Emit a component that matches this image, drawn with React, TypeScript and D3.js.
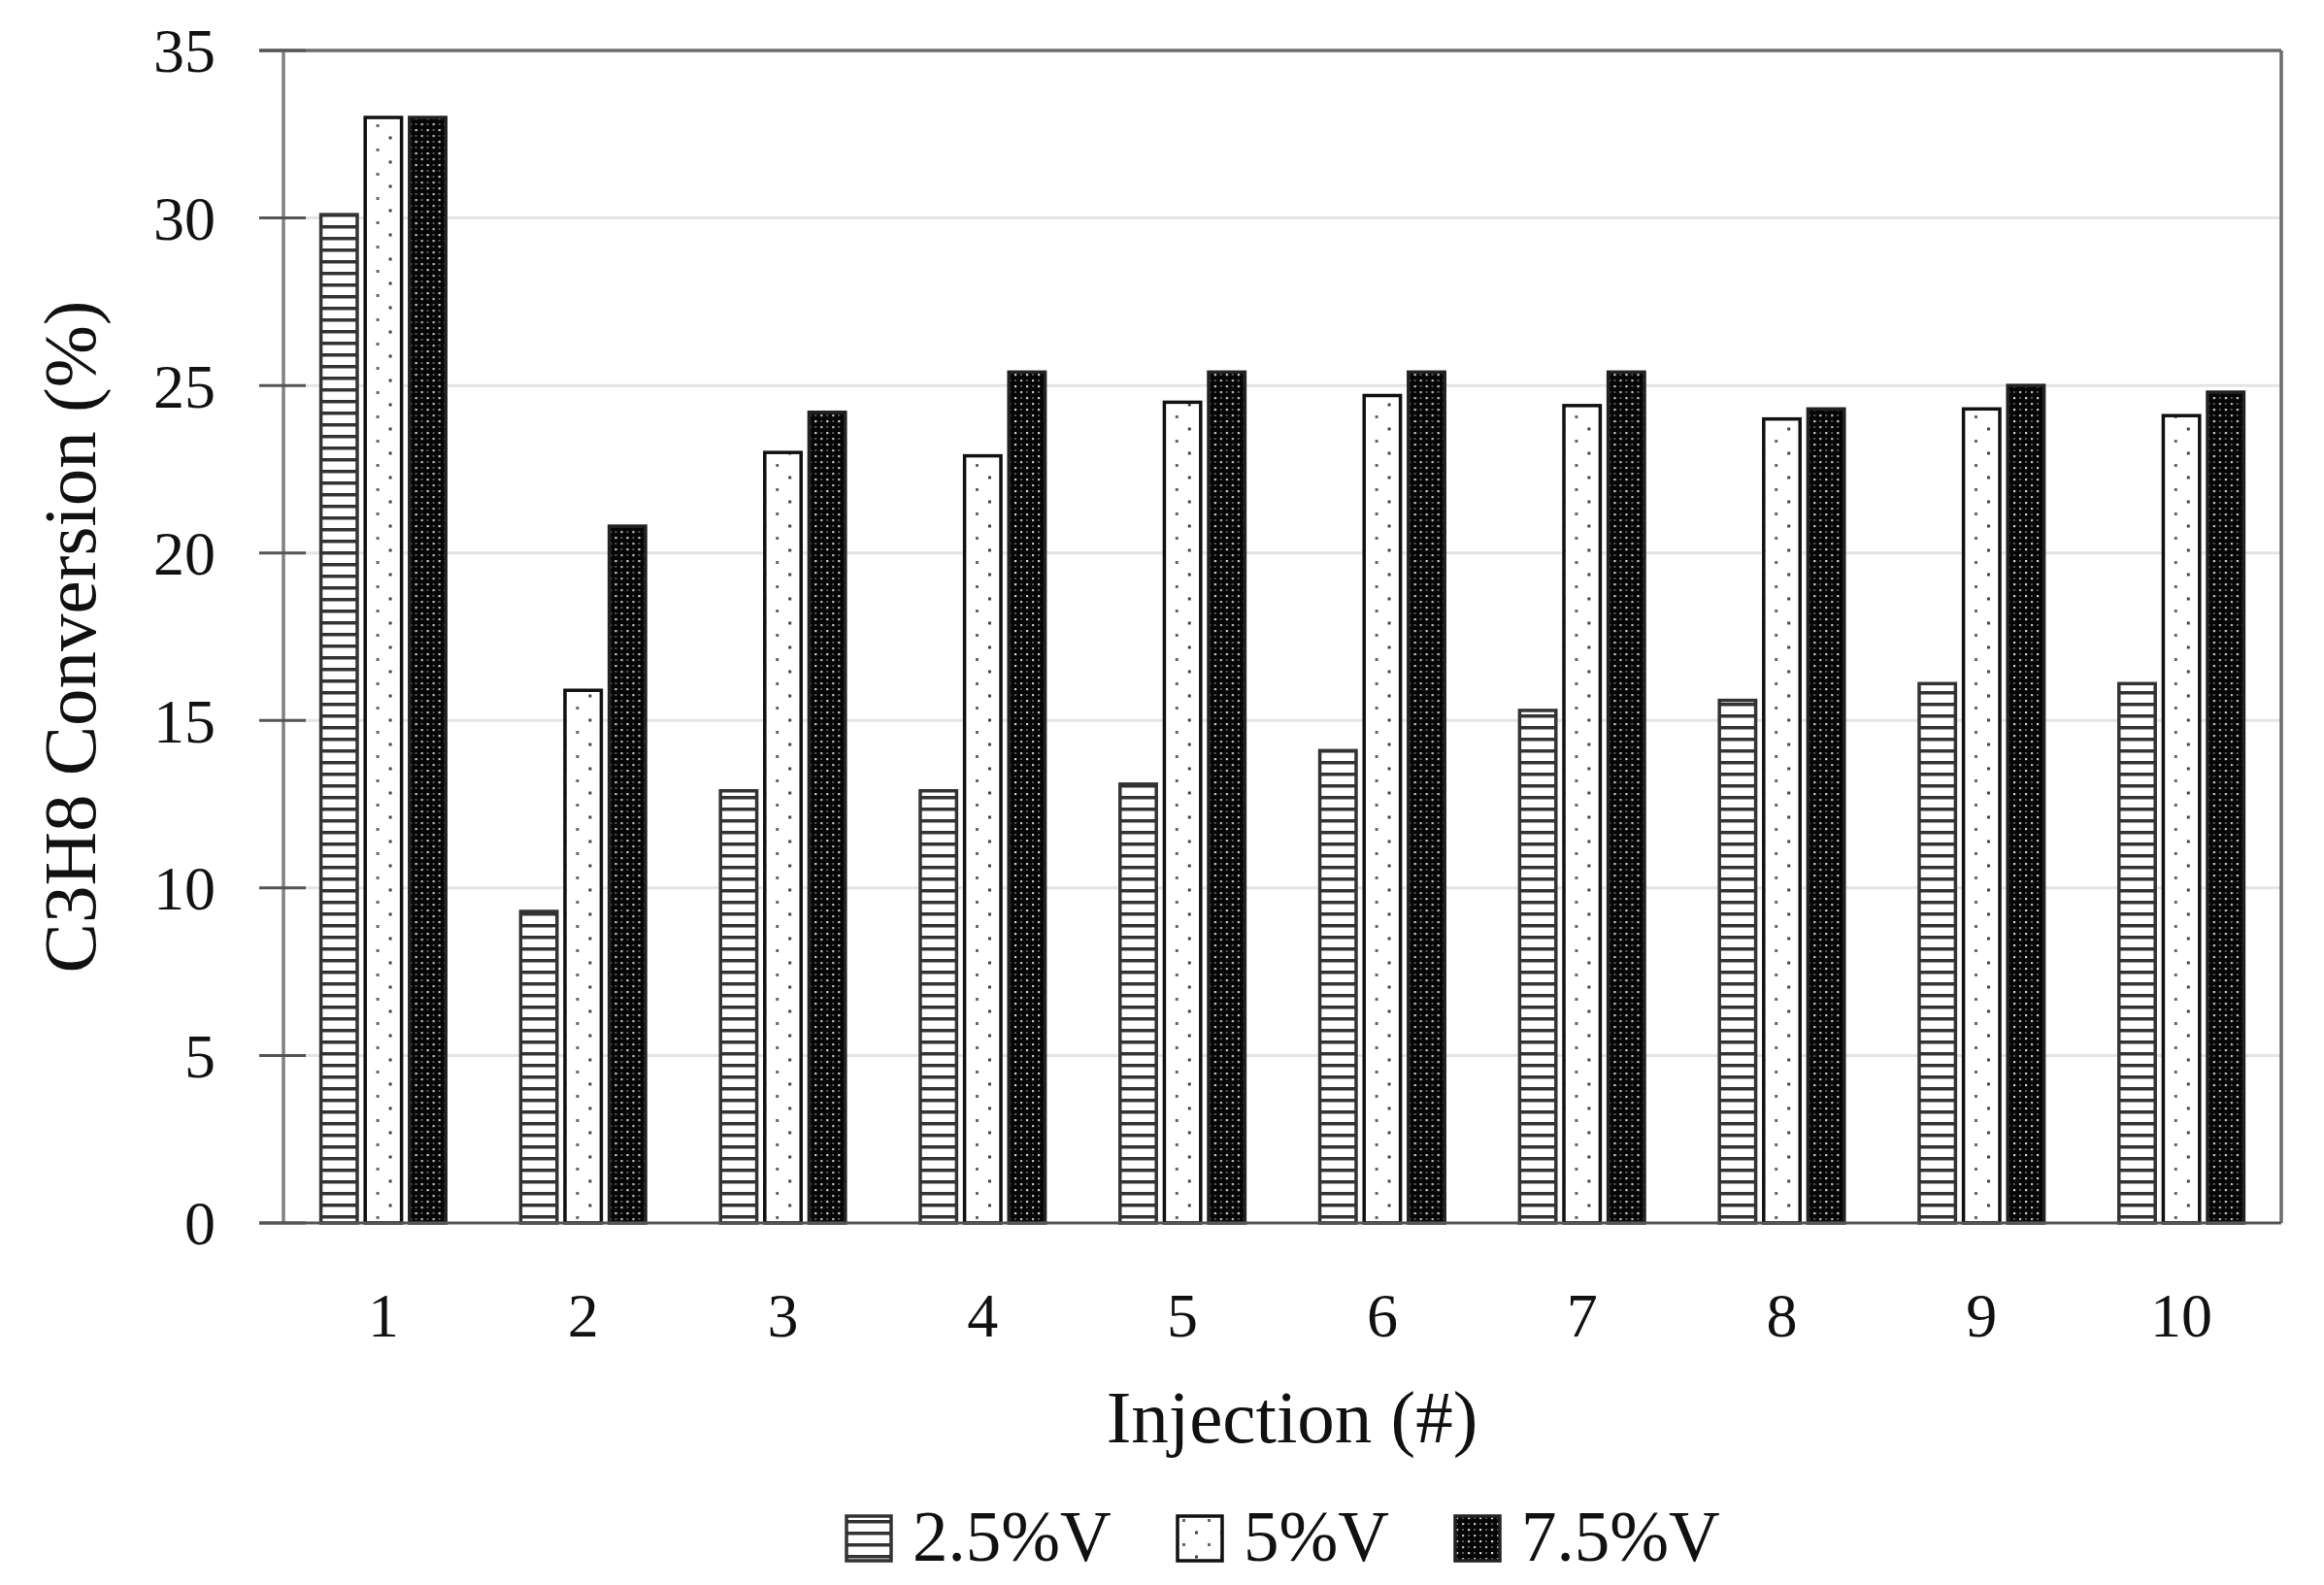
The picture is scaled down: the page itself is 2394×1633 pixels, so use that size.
import { useRef, useEffect } from "react";
import * as d3 from "d3";

const injections = ["1", "2", "3", "4", "5", "6", "7", "8", "9", "10"];
const seriesNames = ["2.5%V", "5%V", "7.5%V"];
const conv25 = [30.1, 9.3, 12.9, 12.9, 13.1, 14.1, 15.3, 15.6, 16.1, 16.1];
const conv5 = [33.0, 15.9, 23.0, 22.9, 24.5, 24.7, 24.4, 24.0, 24.3, 24.1];
const conv75 = [33.0, 20.8, 24.2, 25.4, 25.4, 25.4, 25.4, 24.3, 25.0, 24.8];
const yTicks = [0, 5, 10, 15, 20, 25, 30, 35];

const FONT = "'Liberation Serif', 'Times New Roman', serif";

export default function App() {
  const svgRef = useRef<SVGSVGElement>(null);

  useEffect(() => {
    if (!svgRef.current) return;
    const width = 2394;
    const height = 1633;
    const left = 292;
    const right = 2350;
    const top = 52;
    const bottom = 1260;

    const svg = d3.select(svgRef.current);
    svg.selectAll("*").remove();
    svg.attr("width", width).attr("height", height).attr("viewBox", `0 0 ${width} ${height}`);

    svg.append("rect").attr("width", width).attr("height", height).attr("fill", "#fff");

    const defs = svg.append("defs");

    // horizontal stripes
    const pH = defs.append("pattern").attr("id", "pat-h").attr("patternUnits", "userSpaceOnUse")
      .attr("width", 8).attr("height", 12);
    pH.append("rect").attr("width", 8).attr("height", 12).attr("fill", "#fff");
    pH.append("rect").attr("y", 4).attr("width", 8).attr("height", 3.5).attr("fill", "#333");

    // sparse dots
    const pD = defs.append("pattern").attr("id", "pat-d").attr("patternUnits", "userSpaceOnUse")
      .attr("width", 26).attr("height", 25);
    pD.append("rect").attr("width", 26).attr("height", 25).attr("fill", "#fff");
    pD.append("rect").attr("x", 5).attr("y", 3).attr("width", 3).attr("height", 3).attr("fill", "#666");
    pD.append("rect").attr("x", 18).attr("y", 15.5).attr("width", 3).attr("height", 3).attr("fill", "#444");

    // dark with light speckles
    const pK = defs.append("pattern").attr("id", "pat-k").attr("patternUnits", "userSpaceOnUse")
      .attr("width", 12).attr("height", 12);
    pK.append("rect").attr("width", 12).attr("height", 12).attr("fill", "#050505");
    pK.append("rect").attr("x", 1).attr("y", 1).attr("width", 2.2).attr("height", 2.2).attr("fill", "#cfcfcf");
    pK.append("rect").attr("x", 7).attr("y", 7).attr("width", 2.2).attr("height", 2.2).attr("fill", "#bdbdbd");
    pK.append("rect").attr("x", 7).attr("y", 1).attr("width", 2).attr("height", 2).attr("fill", "#555");
    pK.append("rect").attr("x", 1).attr("y", 7).attr("width", 2).attr("height", 2).attr("fill", "#555");

    const fills = ["url(#pat-h)", "url(#pat-d)", "url(#pat-k)"];
    const strokes = ["#333", "#111", "#222"];

    const x0 = d3.scaleBand<string>().domain(injections).range([left, right]).padding(0);
    const groupW = x0.bandwidth() * 0.625;
    const x1 = d3.scaleBand<string>().domain(seriesNames).range([0, groupW]).paddingInner(0.18).paddingOuter(0);
    const y = d3.scaleLinear().domain([0, 35]).range([bottom, top]);

    // gridlines
    svg.append("g").selectAll("line").data(yTicks.filter((t) => t > 0 && t < 35)).join("line")
      .attr("x1", left).attr("x2", right)
      .attr("y1", (d) => y(d)).attr("y2", (d) => y(d))
      .attr("stroke", "#e4e4e4").attr("stroke-width", 3);

    // frame top & right
    svg.append("line").attr("x1", left - 25).attr("x2", right).attr("y1", top).attr("y2", top)
      .attr("stroke", "#6b6b6b").attr("stroke-width", 3.5);
    svg.append("line").attr("x1", right).attr("x2", right).attr("y1", top).attr("y2", bottom)
      .attr("stroke", "#6b6b6b").attr("stroke-width", 3.5);

    // bars
    const data = [conv25, conv5, conv75];
    const groups = svg.append("g").selectAll("g").data(injections).join("g")
      .attr("transform", (d) => `translate(${(x0(d) ?? 0) + (x0.bandwidth() - groupW) / 2},0)`);
    groups.selectAll("rect")
      .data((_, i) => seriesNames.map((s, k) => ({ s, k, v: data[k][i] })))
      .join("rect")
      .attr("x", (d) => x1(d.s) ?? 0)
      .attr("width", x1.bandwidth())
      .attr("y", (d) => y(d.v))
      .attr("height", (d) => bottom - y(d.v))
      .attr("fill", (d) => fills[d.k])
      .attr("stroke", (d) => strokes[d.k])
      .attr("stroke-width", 3.5);

    // left axis line and ticks
    svg.append("line").attr("x1", left).attr("x2", left).attr("y1", top).attr("y2", bottom)
      .attr("stroke", "#808080").attr("stroke-width", 3.5);
    svg.append("g").selectAll("line").data(yTicks).join("line")
      .attr("x1", left - 25).attr("x2", left + 23)
      .attr("y1", (d) => y(d)).attr("y2", (d) => y(d))
      .attr("stroke", "#555").attr("stroke-width", 3);
    svg.append("line").attr("x1", left - 25).attr("x2", right).attr("y1", bottom).attr("y2", bottom)
      .attr("stroke", "#555").attr("stroke-width", 3);

    // y tick labels
    svg.append("g").selectAll("text").data(yTicks).join("text")
      .attr("x", 222).attr("y", (d) => y(d)).attr("dy", "0.35em")
      .attr("text-anchor", "end")
      .style("font-family", FONT).style("font-size", "64px").style("fill", "#111")
      .text((d) => String(d));

    // x tick labels
    svg.append("g").selectAll("text").data(injections).join("text")
      .attr("x", (d) => (x0(d) ?? 0) + x0.bandwidth() / 2).attr("y", 1377)
      .attr("text-anchor", "middle")
      .style("font-family", FONT).style("font-size", "64px").style("fill", "#111")
      .text((d) => d);

    // axis titles
    svg.append("text").attr("x", (left + right) / 2 + 10).attr("y", 1486)
      .attr("text-anchor", "middle")
      .style("font-family", FONT).style("font-size", "77px").style("fill", "#111")
      .text("Injection (#)");
    svg.append("text").attr("transform", `translate(98,${(top + bottom) / 2}) rotate(-90)`)
      .attr("text-anchor", "middle")
      .style("font-family", FONT).style("font-size", "77px").style("fill", "#111")
      .text("C3H8 Conversion (%)");

    // legend
    const legendX = [872, 1213, 1499];
    const leg = svg.append("g").selectAll("g").data(seriesNames).join("g")
      .attr("transform", (_, i) => `translate(${legendX[i]},1562)`);
    leg.append("rect").attr("width", 46).attr("height", 46)
      .attr("fill", (_, i) => fills[i]).attr("stroke", (_, i) => strokes[i]).attr("stroke-width", 3.5);
    leg.append("text").attr("x", 68).attr("y", 46)
      .style("font-family", FONT).style("font-size", "73px").style("fill", "#111")
      .text((d) => d);
  }, []);

  return <svg ref={svgRef} style={{ position: "absolute", left: 0, top: 0, display: "block" }} />;
}
